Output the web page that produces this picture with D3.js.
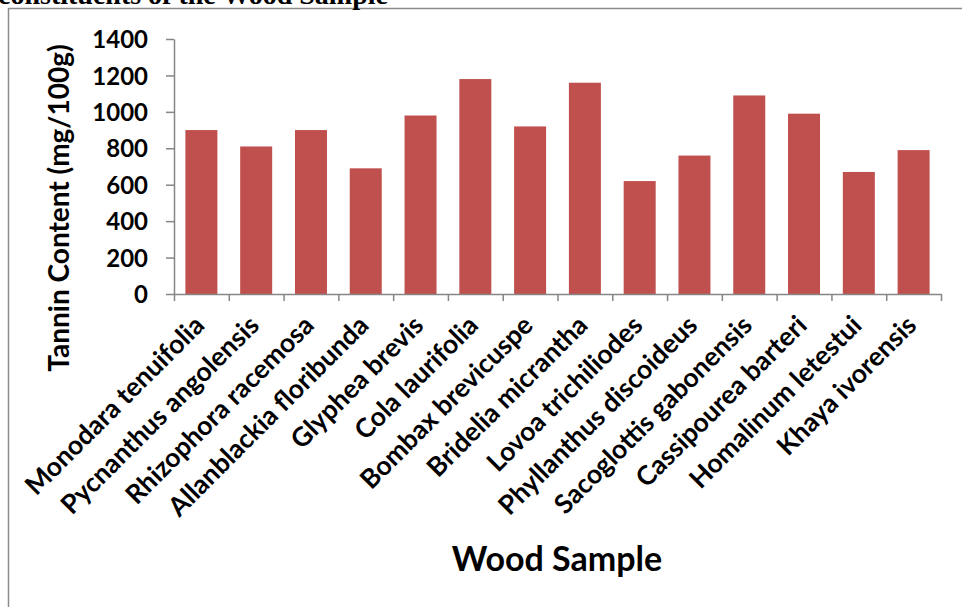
<!DOCTYPE html>
<html><head><meta charset="utf-8">
<script src="https://cdn.jsdelivr.net/npm/d3@7"></script>
<style>html,body{margin:0;padding:0;background:#fff;overflow:hidden}</style>
</head><body><svg id="c" width="962" height="607"></svg>
<script>
const categories = ["Monodara tenuifolia","Pycnanthus angolensis","Rhizophora racemosa","Allanblackia floribunda","Glyphea brevis","Cola laurifolia","Bombax brevicuspe","Bridelia micrantha","Lovoa trichiliodes","Phyllanthus discoideus","Sacoglottis gabonensis","Cassipourea barteri","Homalinum letestui","Khaya ivorensis"];
const tannin = [900,810,900,690,980,1180,920,1160,620,760,1090,990,670,790];
const yTicks = [0,200,400,600,800,1000,1200,1400];

(function(){
const svg = d3.select("#c");
const font = "Lato, 'Open Sans', sans-serif";
const pl = 174, pr = 941, pt = 39, pb = 294;

svg.append("path").attr("d","M8.5,620V8.5H980").attr("fill","none").attr("stroke","#8c8c8c").attr("stroke-width",1.5);
svg.append("text").attr("x",-2).attr("y",4).attr("font-family","'Liberation Serif', serif").attr("font-weight","bold").attr("font-size",28).text("constituents of the Wood Sample");

const x = d3.scaleBand().domain(categories).range([pl,pr]).paddingInner(0.416).paddingOuter(0.208);
const y = d3.scaleLinear().domain([0,1400]).range([pb,pt]);

svg.append("g").selectAll("rect").data(tannin).join("rect")
  .attr("x",(d,i)=>x(categories[i])).attr("width",x.bandwidth())
  .attr("y",d=>y(d)).attr("height",d=>pb-y(d)).attr("fill","#C0504D");

const ya = svg.append("g").attr("transform",`translate(${pl},0)`)
  .call(d3.axisLeft(y).tickValues(yTicks).tickFormat(d3.format("d")).tickSize(8).tickPadding(18).tickSizeOuter(0));
ya.select(".domain").attr("stroke","#868686").attr("stroke-width",1.5);
ya.selectAll(".tick line").attr("stroke","#868686").attr("stroke-width",1.5);
ya.selectAll("text").attr("font-family",font).attr("font-weight","bold").attr("font-size",24).attr("fill","#000").attr("dy","0.36em");

const xb = d3.scaleLinear().domain([0,categories.length]).range([pl,pr]);
const xa = svg.append("g").attr("transform",`translate(0,${pb})`)
  .call(d3.axisBottom(xb).tickValues(d3.range(categories.length+1)).tickSize(7).tickFormat("").tickSizeOuter(0));
xa.select(".domain").attr("stroke","#868686").attr("stroke-width",1.5);
xa.selectAll(".tick line").attr("stroke","#868686").attr("stroke-width",1.5);

svg.append("g").selectAll("text").data(categories).join("text")
  .attr("transform",d=>`translate(${x(d)+x.bandwidth()/2+4.5},${pb+33}) rotate(-45)`)
  .attr("text-anchor","end")
  .attr("font-family",font).attr("font-weight","bold").attr("font-size",26.5).text(d=>d);

svg.append("text").attr("transform","translate(59,208) rotate(-90)").attr("text-anchor","middle").attr("dy","0.35em")
  .attr("font-family",font).attr("font-weight","bold").attr("font-size",28).text("Tannin Content (mg/100g)");
svg.append("text").attr("x",557).attr("y",571).attr("text-anchor","middle")
  .attr("font-family",font).attr("font-weight","bold").attr("font-size",34).text("Wood Sample");
})();
</script></body></html>
